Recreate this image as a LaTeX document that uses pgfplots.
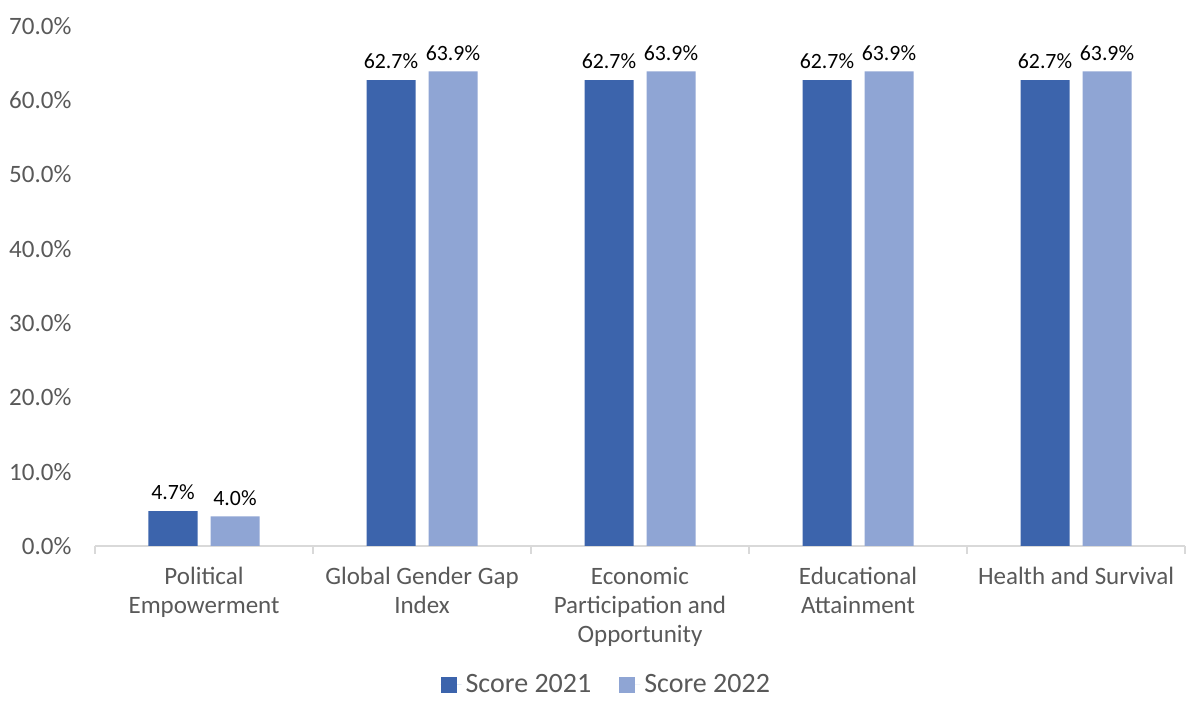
\documentclass[border=0pt]{standalone}
\usepackage{pgfplots}
\pgfplotsset{compat=1.18}
\usepackage{fontspec}
\setmainfont{Carlito}
\definecolor{dark21}{HTML}{3C64AC}
\definecolor{light22}{HTML}{8FA5D4}
\definecolor{txtgray}{HTML}{595959}
\definecolor{axgray}{HTML}{D9D9D9}
\begin{document}
\begin{tikzpicture}
\begin{axis}[
    scale only axis,
    width=545pt, height=260pt,
    ybar=6.5pt, bar width=24.5pt,
    xmin=-0.5, xmax=4.5,
    ymin=0, ymax=70,
    xtick={0,1,2,3,4},
    xticklabels={Political\\Empowerment, Global Gender Gap\\Index, Economic\\Participation and\\Opportunity, Educational\\Attainment, Health and Survival},
    x tick label style={align=center, font=\fontsize{12.5}{14.5}\selectfont, text=txtgray, yshift=-3pt},
    minor xtick={-0.5,0.5,1.5,2.5,3.5,4.5},
    major x tick style={draw=none},
    minor x tick style={axgray, line width=0.6pt},
    minor tick length=4pt,
    tick align=outside,
    ytick={0,10,...,70},
    yticklabel={\pgfmathprintnumber[fixed,fixed zerofill,precision=1]{\tick}\%},
    /pgf/number format/assume math mode=true,
    y tick label style={font=\fontsize{12.5}{14}\selectfont, text=txtgray, xshift=-4pt},
    ytick style={draw=none},
    axis x line*=bottom,
    axis y line*=left,
    y axis line style={draw=none},
    x axis line style={axgray, line width=0.6pt, -},
    nodes near coords={\pgfmathprintnumber[fixed,fixed zerofill,precision=1]{\pgfplotspointmeta}\%},
    every node near coord/.append style={font=\fontsize{10.9}{12}\selectfont, text=black, yshift=2pt},
    legend style={at={(0.47,-0.267)}, anchor=center, draw=none, font=\fontsize{14}{16}\selectfont, text=txtgray, legend columns=2,
        /tikz/every even column/.append style={column sep=12pt}},
    legend image code/.code={\fill[#1] (0pt,-4pt) rectangle (8pt,4pt); \path (0pt,0pt) -- (10.5pt,0pt);},
]
\addplot[fill=dark21, draw=none] coordinates {(0,4.7) (1,62.7) (2,62.7) (3,62.7) (4,62.7)};
\addplot[fill=light22, draw=none] coordinates {(0,4.0) (1,63.9) (2,63.9) (3,63.9) (4,63.9)};
\legend{Score 2021, Score 2022}
\coordinate (bl) at (rel axis cs:0,0);
\end{axis}
\path (bl) ++(-47.5pt,-79pt) rectangle ++(593.5pt,352pt);
\end{tikzpicture}
\end{document}
